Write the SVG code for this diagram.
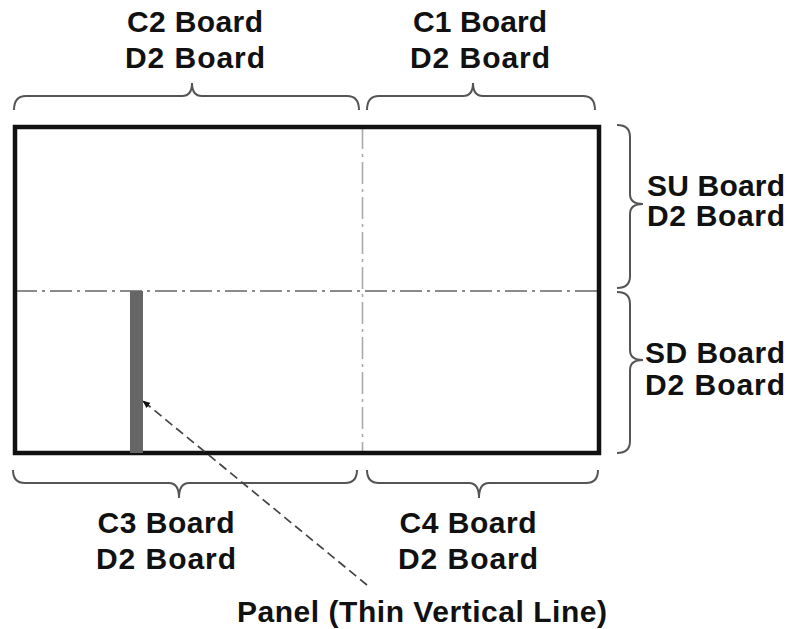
<svg xmlns="http://www.w3.org/2000/svg" width="790" height="629" viewBox="0 0 790 629">
<style>
text{font-family:"Liberation Sans",Arial,sans-serif;font-weight:bold;font-size:30px;fill:#111}
.c{text-anchor:middle}
.brace{fill:none;stroke:#555;stroke-width:2}
.dd{stroke-width:1.6;stroke-dasharray:22 5 3 5;fill:none}
</style>
<defs>
<marker id="ah" viewBox="0 0 10 10" refX="9" refY="5" markerWidth="8" markerHeight="8" orient="auto" markerUnits="userSpaceOnUse">
<path d="M0,1 L10,5 L0,9 Z" fill="#111"/>
</marker>
</defs>
<rect width="790" height="629" fill="#fff"/>
<g id="frame">
<line class="dd" x1="15" y1="291" x2="599" y2="291" stroke="#666"/>
<line class="dd" x1="362.5" y1="127" x2="362.5" y2="453" stroke="#aaa"/>
<rect x="15" y="127" width="584" height="326" fill="none" stroke="#111" stroke-width="4.5"/>
</g>
<g id="panel">
<rect x="130" y="291" width="13" height="162" fill="#666"/>
</g>
<g id="braces">
<path class="brace" d="M14,110 Q14,96 26,96 L182,96 Q192,96 192,83 Q192,96 202,96 L347,96 Q359,96 359,110"/>
<path class="brace" d="M367,110 Q367,96 379,96 L463,96 Q473,96 473,83 Q473,96 483,96 L583,96 Q595,96 595,110"/>
<path class="brace" d="M617,125 Q630,125 630,137 L630,194 Q630,204 643,204 Q630,204 630,214 L630,276 Q630,288 617,288"/>
<path class="brace" d="M617,292 Q630,292 630,304 L630,350 Q630,360 643,360 Q630,360 630,370 L630,441 Q630,453 617,453"/>
<path class="brace" d="M13,470 Q13,483 25,483 L169,483 Q179,483 179,498 Q179,483 189,483 L345,483 Q357,483 357,470"/>
<path class="brace" d="M367,470 Q367,483 379,483 L469,483 Q479,483 479,498 Q479,483 489,483 L586,483 Q598,483 598,470"/>
</g>
<g id="connectors">
<line x1="367" y1="585" x2="143" y2="401" stroke="#444" stroke-width="1.7" stroke-dasharray="9 5" marker-end="url(#ah)"/>
</g>
<g id="label-c2"><text class="c" x="195" y="32" textLength="136">C2 Board</text><text class="c" x="195" y="68" textLength="140">D2 Board</text></g>
<g id="label-c1"><text class="c" x="480" y="32" textLength="134">C1 Board</text><text class="c" x="480" y="68" textLength="140">D2 Board</text></g>
<g id="label-su"><text x="647" y="196" textLength="138">SU Board</text><text x="647" y="226" textLength="138">D2 Board</text></g>
<g id="label-sd"><text x="645" y="363" textLength="140">SD Board</text><text x="645" y="395" textLength="140">D2 Board</text></g>
<g id="label-c3"><text class="c" x="166" y="533" textLength="137">C3 Board</text><text class="c" x="166" y="569" textLength="140">D2 Board</text></g>
<g id="label-c4"><text class="c" x="468" y="533" textLength="137">C4 Board</text><text class="c" x="468" y="569" textLength="140">D2 Board</text></g>
<g id="label-panel"><text x="237" y="622" textLength="370">Panel (Thin Vertical Line)</text></g>
</svg>
